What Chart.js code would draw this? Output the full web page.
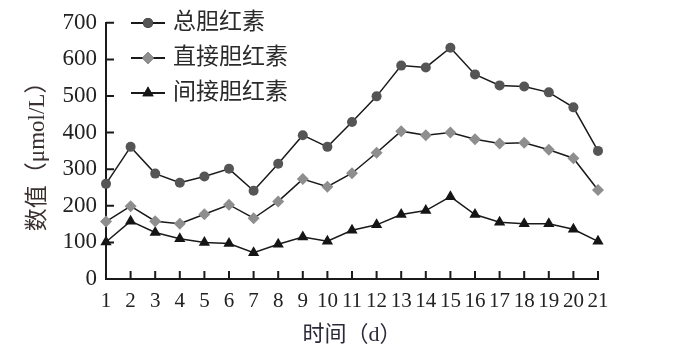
<!DOCTYPE html>
<html>
<head>
<meta charset="utf-8">
<script src="https://cdn.jsdelivr.net/npm/chart.js@4"></script>
<style>
  html, body { margin: 0; padding: 0; background: #fff; }
  #wrap { width: 681px; height: 358px; }
</style>
</head>
<body>
<div id="wrap"><canvas id="chart" width="681" height="358"></canvas></div>
<script>
// data
const days = ['1','2','3','4','5','6','7','8','9','10','11','12','13','14','15','16','17','18','19','20','21'];
const totalBili = [260, 361, 288, 263, 280, 301, 241, 315, 393, 361, 429, 499, 583, 578, 632, 559, 529, 526, 510, 469, 350];
const directBili = [157, 199, 158, 151, 177, 203, 166, 212, 273, 252, 289, 345, 404, 393, 400, 382, 370, 372, 353, 330, 243];
const indirectBili = [101, 158, 127, 110, 100, 97, 72, 95, 115, 103, 133, 148, 176, 187, 225, 176, 155, 151, 151, 136, 103];
const seriesNames = ['总胆红素', '直接胆红素', '间接胆红素'];

const serifFamily = 'Liberation Serif, Times New Roman, DejaVu Serif, serif';
const cjkFont = serifFamily + ', Noto Sans CJK SC';

// inward tick marks + legend in the top-left corner
const axisExtras = {
  id: 'axisExtras',
  afterDraw(chart) {
    const ctx = chart.ctx;
    const x = chart.scales.x, y = chart.scales.y;
    const area = chart.chartArea;
    ctx.save();
    ctx.strokeStyle = '#1a1a1a';
    ctx.lineWidth = 2;
    ctx.beginPath();
    y.ticks.forEach(t => {
      const py = y.getPixelForValue(t.value);
      ctx.moveTo(area.left, py);
      ctx.lineTo(area.left + 8, py);
    });
    x.ticks.forEach((t, i) => {
      const px = x.getPixelForValue(i);
      ctx.moveTo(px, area.bottom);
      ctx.lineTo(px, area.bottom - 8);
    });
    ctx.stroke();

    // legend
    const rows = [23, 58, 93];
    chart.data.datasets.forEach((ds, i) => {
      const cy = rows[i];
      ctx.strokeStyle = '#1a1a1a';
      ctx.lineWidth = 2;
      ctx.beginPath();
      ctx.moveTo(131, cy);
      ctx.lineTo(165, cy);
      ctx.stroke();
      Chart.helpers.drawPoint(ctx, {
        pointStyle: ds.pointStyle,
        radius: ds.pointRadius,
        borderWidth: 0
      }, 148, cy);
      ctx.fillStyle = ds.pointBackgroundColor;
      ctx.fill();
      ctx.fillStyle = '#2a2a2a';
      ctx.font = '23px ' + cjkFont;
      ctx.textBaseline = 'middle';
      ctx.textAlign = 'left';
      ctx.fillText(ds.label, 173, cy);
    });
    ctx.restore();
  }
};

new Chart(document.getElementById('chart'), {
  type: 'line',
  data: {
    labels: days,
    datasets: [
      {
        label: seriesNames[0],
        data: totalBili,
        borderColor: '#1a1a1a',
        borderWidth: 1.5,
        pointStyle: 'circle',
        pointRadius: 5,
        pointBackgroundColor: '#555555',
        pointBorderWidth: 0
      },
      {
        label: seriesNames[1],
        data: directBili,
        borderColor: '#1a1a1a',
        borderWidth: 1.5,
        pointStyle: 'rectRot',
        pointRadius: 6,
        pointBackgroundColor: '#8e8e8e',
        pointBorderWidth: 0
      },
      {
        label: seriesNames[2],
        data: indirectBili,
        borderColor: '#1a1a1a',
        borderWidth: 1.5,
        pointStyle: 'triangle',
        pointRadius: 6.5,
        pointBackgroundColor: '#151515',
        pointBorderWidth: 0
      }
    ]
  },
  options: {
    responsive: false,
    animation: false,
    layout: { padding: { top: 21, right: 83, left: 0, bottom: 0 } },
    plugins: {
      legend: { display: false },
      tooltip: { enabled: false }
    },
    scales: {
      x: {
        offset: false,
        grid: { display: false, drawTicks: false },
        border: { color: '#1a1a1a', width: 2 },
        ticks: { color: '#222', font: { family: serifFamily, size: 21 }, padding: 10, maxRotation: 0, autoSkip: false },
        title: {
          display: true,
          text: '时间（d）',
          color: '#2a2a3a',
          font: { family: cjkFont, size: 22 },
          padding: { top: 4, bottom: 10 }
        },
        afterFit(s) { s.height = 79; }
      },
      y: {
        min: 0,
        max: 700,
        grid: { display: false, drawTicks: false },
        border: { color: '#1a1a1a', width: 2 },
        ticks: { stepSize: 100, color: '#222', font: { family: serifFamily, size: 23 }, padding: 9 },
        title: {
          display: true,
          text: '数值（μmol/L）',
          color: '#3a3030',
          font: { family: cjkFont, size: 23 },
          padding: { top: 24, bottom: 4 }
        },
        afterFit(s) { s.width = 106; }
      }
    }
  },
  plugins: [axisExtras]
});
</script>
</body>
</html>
